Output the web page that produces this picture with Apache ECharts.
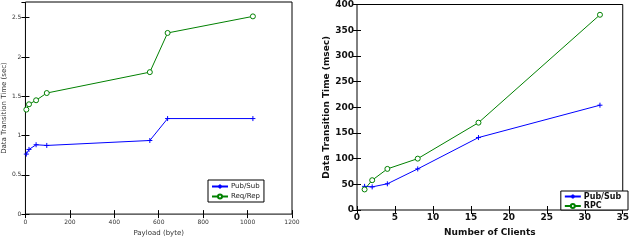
<!DOCTYPE html>
<html>
<head>
<meta charset="utf-8">
<script src="https://cdn.jsdelivr.net/npm/echarts@6/dist/echarts.min.js"></script>
<style>
html,body{margin:0;padding:0;background:#fff;}
#main{width:632px;height:242px;}
</style>
</head>
<body>
<div id="main"></div>
<script>
// left: payload vs time (sec)
var payload = [4, 16, 48, 96, 560, 640, 1024];
var pubSubSec = [0.764, 0.823, 0.883, 0.874, 0.937, 1.216, 1.216];
var reqRepSec = [1.33, 1.398, 1.449, 1.541, 1.807, 2.306, 2.517];

// right: clients vs time (msec)
var clients = [1, 2, 4, 8, 16, 32];
var pubSubMs = [46, 45, 51, 80, 141, 204];
var rpcMs = [40, 58, 80, 100, 170, 380];

var plusSym = 'path://M0,5L10,5M5,0L5,10';

function pairs(xs, ys){
	var out = [];
	for(var i=0;i<xs.length;i++){ out.push([xs[i], ys[i]]); }
	return out;
}
function plain(v){ return String(v); }

var myChart = echarts.init(document.getElementById('main'));

function tickAxis(gi, pos, min, max, interval){
	// extra axis just for inward ticks on top/right
	return {
		gridIndex: gi, type:'value', position: pos, min:min, max:max, interval:interval,
		axisLine:{show:false}, axisLabel:{show:false}, splitLine:{show:false},
		axisTick:{show:true, inside:true, length:4, lineStyle:{color:'#000'}}
	};
}

var leftFont = {fontFamily:'DejaVu Sans', fontSize:6, color:'#333', formatter:plain};
var rightFont = {fontFamily:'DejaVu Sans', fontSize:9, fontWeight:'bold', color:'#111', formatter:plain};

var option = {
	animation:false,
	grid:[
		{left:22, right:340, top:2, bottom:27, show:true, borderColor:'#000', borderWidth:1},
		{left:357, right:2, top:3, bottom:25, show:true, borderColor:'#000', borderWidth:1}
	],
	xAxis:[
		{gridIndex:0, type:'value', min:0, max:1200, interval:200,
			name:'Payload (byte)', nameLocation:'middle', nameGap:12,
			nameTextStyle:{fontFamily:'DejaVu Sans', fontSize:7, color:'#333'},
			axisLine:{show:false}, splitLine:{show:false},
			axisTick:{inside:true, length:4, lineStyle:{color:'#000'}},
			axisLabel:Object.assign({margin:5}, leftFont)},
		{gridIndex:1, type:'value', min:0, max:35, interval:5,
			name:'Number of Clients', nameLocation:'middle', nameGap:18,
			nameTextStyle:{fontFamily:'DejaVu Sans', fontSize:9, fontWeight:'bold', color:'#111'},
			axisLine:{show:false}, splitLine:{show:false},
			axisTick:{inside:true, length:4, lineStyle:{color:'#000'}},
			axisLabel:Object.assign({margin:3}, rightFont)},
		tickAxis(0, 'top', 0, 1200, 200),
		tickAxis(1, 'top', 0, 35, 5)
	],
	yAxis:[
		{gridIndex:0, type:'value', min:0, max:2.7, interval:0.5,
			name:'Data Transition Time (sec)', nameLocation:'middle', nameGap:14,
			nameTextStyle:{fontFamily:'DejaVu Sans', fontSize:7, color:'#333'},
			axisLine:{show:false}, splitLine:{show:false},
			axisTick:{inside:true, length:4, lineStyle:{color:'#000'}},
			axisLabel:Object.assign({margin:4, showMaxLabel:false}, leftFont)},
		{gridIndex:1, type:'value', min:0, max:400, interval:50,
			name:'Data Transition Time (msec)', nameLocation:'middle', nameGap:24,
			nameTextStyle:{fontFamily:'DejaVu Sans', fontSize:9, fontWeight:'bold', color:'#111'},
			axisLine:{show:false}, splitLine:{show:false},
			axisTick:{inside:true, length:4, lineStyle:{color:'#000'}},
			axisLabel:Object.assign({margin:3}, rightFont)},
		tickAxis(0, 'right', 0, 2.7, 0.5),
		tickAxis(1, 'right', 0, 400, 50)
	],
	legend:[
		{left:208, top:180, orient:'vertical', itemWidth:16, itemHeight:5, itemGap:2,
			padding:[2,4,2,3], borderColor:'#000', borderWidth:1, backgroundColor:'#fff',
			textStyle:{fontFamily:'DejaVu Sans', fontSize:7, color:'#222', padding:[0,0,0,-2]},
			data:['Pub/Sub','Req/Rep']},
		{right:4, top:191, orient:'vertical', itemWidth:16, itemHeight:5, itemGap:1,
			padding:[1,4,0,3], borderColor:'#000', borderWidth:1, backgroundColor:'#fff',
			textStyle:{fontFamily:'DejaVu Sans', fontSize:8, fontWeight:'bold', color:'#111', padding:[0,0,0,-2]},
			data:['Pub/Sub ','RPC']}
	],
	series:[
		{name:'Pub/Sub', type:'line', xAxisIndex:0, yAxisIndex:0, data:pairs(payload, pubSubSec),
			symbol:plusSym, symbolSize:5, lineStyle:{color:'#0000ff', width:1},
			itemStyle:{color:'none', borderColor:'#0000ff', borderWidth:1}},
		{name:'Req/Rep', type:'line', xAxisIndex:0, yAxisIndex:0, data:pairs(payload, reqRepSec),
			symbol:'circle', symbolSize:5, lineStyle:{color:'#008000', width:1},
			itemStyle:{color:'#ffffff', borderColor:'#008000', borderWidth:1}},
		{name:'Pub/Sub ', type:'line', xAxisIndex:1, yAxisIndex:1, data:pairs(clients, pubSubMs),
			symbol:plusSym, symbolSize:5, lineStyle:{color:'#0000ff', width:1},
			itemStyle:{color:'none', borderColor:'#0000ff', borderWidth:1}},
		{name:'RPC', type:'line', xAxisIndex:1, yAxisIndex:1, data:pairs(clients, rpcMs),
			symbol:'circle', symbolSize:5, lineStyle:{color:'#008000', width:1},
			itemStyle:{color:'#ffffff', borderColor:'#008000', borderWidth:1}}
	]
};
myChart.setOption(option);
</script>
</body>
</html>
